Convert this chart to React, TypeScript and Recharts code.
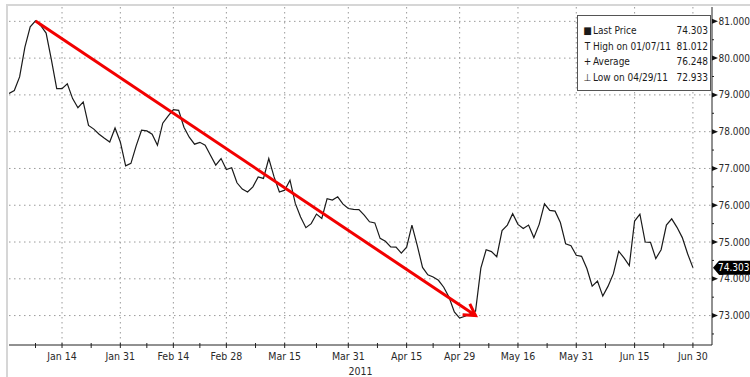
import React from 'react';
import { LineChart, Line, XAxis, YAxis, CartesianGrid, ReferenceLine } from 'recharts';

// Daily closing prices, one per weekday from 2010-12-31 to 2011-06-30
const prices: number[] = [
  79.04, 79.12, 79.49, 80.30, 80.85, 81.012, 80.88, 80.68, 79.95, 79.17,
  79.17, 79.30, 78.90, 78.65, 78.81, 78.17, 78.07, 77.93, 77.82, 77.72,
  78.10, 77.72, 77.07, 77.14, 77.62, 78.04, 78.02, 77.93, 77.63, 78.23,
  78.42, 78.60, 78.58, 78.12, 77.85, 77.66, 77.71, 77.63, 77.36, 77.09,
  77.27, 76.97, 77.02, 76.61, 76.44, 76.36, 76.50, 76.77, 76.73, 77.27,
  76.77, 76.36, 76.41, 76.68, 76.05, 75.68, 75.39, 75.50, 75.76, 75.64,
  76.18, 76.14, 76.23, 76.03, 75.91, 75.89, 75.88, 75.73, 75.55, 75.52,
  75.10, 75.02, 74.87, 74.86, 74.70, 74.86, 75.46, 74.91, 74.31, 74.11,
  74.05, 73.96, 73.77, 73.50, 73.10, 72.933, 72.98, 73.05, 73.12, 74.29,
  74.79, 74.74, 74.60, 75.31, 75.46, 75.77, 75.48, 75.37, 75.46, 75.12,
  75.48, 76.04, 75.86, 75.84, 75.53, 74.95, 74.90, 74.64, 74.61, 74.28,
  73.80, 73.94, 73.53, 73.80, 74.14, 74.75, 74.57, 74.36, 75.57, 75.76,
  75.00, 74.99, 74.55, 74.79, 75.46, 75.63, 75.40, 75.12, 74.68, 74.303,
];

// Axis labels and the dates they sit on
const axisDates: string[] = [
  '2011-01-14', '2011-01-31', '2011-02-14', '2011-02-28', '2011-03-15', '2011-03-31',
  '2011-04-15', '2011-04-29', '2011-05-16', '2011-05-31', '2011-06-15', '2011-06-30',
];
const axisLabels: string[] = [
  'Jan 14', 'Jan 31', 'Feb 14', 'Feb 28', 'Mar 15', 'Mar 31',
  'Apr 15', 'Apr 29', 'May 16', 'May 31', 'Jun 15', 'Jun 30',
];
const yearLabel = '2011';

// Price levels
const majorLevels: number[] = [73, 74, 75, 76, 77, 78, 79, 80, 81];
const minorLevels: number[] = [72.5, 73.5, 74.5, 75.5, 76.5, 77.5, 78.5, 79.5, 80.5];
const averagePrice = 76.248;

// Downtrend arrow, from the January high to early May
const trendFrom = { date: '2011-01-07', value: 81.012 };
const trendTo = { date: '2011-05-04', value: 73.0 };

// Weekday calendar
function weekdays(from: string, to: string): string[] {
  const out: string[] = [];
  const d = new Date(from + 'T00:00:00Z');
  const end = new Date(to + 'T00:00:00Z');
  while (d <= end) {
    const wd = d.getUTCDay();
    if (wd !== 0 && wd !== 6) out.push(d.toISOString().slice(0, 10));
    d.setUTCDate(d.getUTCDate() + 1);
  }
  return out;
}
const tradingDays = weekdays('2010-12-31', '2011-06-30');
const data = tradingDays.map((date, i) => ({ i, date, price: prices[i] }));

const labelIdx = axisDates.map((d) => tradingDays.indexOf(d));
const sepIdx = labelIdx.map((v, k) => (k === 0 ? v / 2 : (labelIdx[k - 1] + v) / 2));

const lastPrice = prices[prices.length - 1];
const highPrice = Math.max(...prices);
const lowPrice = Math.min(...prices);
const highDate = tradingDays[prices.indexOf(highPrice)];
const lowDate = tradingDays[prices.indexOf(lowPrice)];
const usDate = (s: string) => `${s.slice(5, 7)}/${s.slice(8, 10)}/${s.slice(2, 4)}`;

const FONT = '"DejaVu Sans Condensed", "DejaVu Sans", sans-serif';
const TEXT = '#2a2a2a';

function DateTick(props: any) {
  const { x, y, payload } = props;
  const k = labelIdx.indexOf(payload.value);
  return (
    <g>
      <line x1={x} y1={y - 2} x2={x} y2={y + 3} stroke="#222" strokeWidth={1} />
      {k >= 0 && (
        <text x={x} y={y + 15} textAnchor="middle" fontSize={10.5} fontFamily={FONT} fill={TEXT}>
          {axisLabels[k]}
        </text>
      )}
    </g>
  );
}

function PriceTick(props: any) {
  const { x, y, payload } = props;
  const v = payload.value;
  if (v === lastPrice) {
    return (
      <g>
        <polygon
          points={`${x + 1},${y} ${x + 7},${y - 7} ${x + 38},${y - 7} ${x + 38},${y + 7} ${x + 7},${y + 7}`}
          fill="#000"
        />
        <text x={x + 6} y={y + 3.5} fontSize={10} fontFamily={FONT} fill="#fff">
          {v.toFixed(3)}
        </text>
      </g>
    );
  }
  if (majorLevels.includes(v)) {
    return (
      <g>
        <polygon points={`${x},${y - 2.5} ${x + 6},${y} ${x},${y + 2.5}`} fill="#111" />
        <text x={x + 6.5} y={y + 3.5} fontSize={10} fontFamily={FONT} fill={TEXT}>
          {v.toFixed(3)}
        </text>
      </g>
    );
  }
  return <line x1={x} y1={y} x2={x + 2} y2={y} stroke="#222" strokeWidth={1} />;
}

function TrendArrow(props: any) {
  const { x1, y1, x2, y2 } = props;
  const ang = Math.atan2(y2 - y1, x2 - x1);
  const len = 13;
  const spread = Math.PI / 6;
  const ax = x2 - len * Math.cos(ang - spread);
  const ay = y2 - len * Math.sin(ang - spread);
  const bx = x2 - len * Math.cos(ang + spread);
  const by = y2 - len * Math.sin(ang + spread);
  return (
    <g>
      <line x1={x1} y1={y1} x2={x2} y2={y2} stroke="#f20000" strokeWidth={3} />
      <polyline
        points={`${ax},${ay} ${x2},${y2} ${bx},${by}`}
        fill="none"
        stroke="#f20000"
        strokeWidth={3}
        strokeLinejoin="miter"
      />
    </g>
  );
}

const legendRows = [
  { icon: '■', label: 'Last Price', value: lastPrice },
  { icon: 'T', label: `High on ${usDate(highDate)}`, value: highPrice },
  { icon: '+', label: 'Average', value: averagePrice },
  { icon: '⊥', label: `Low on ${usDate(lowDate)}`, value: lowPrice },
];

export default function App() {
  return (
    <div
      style={{
        position: 'absolute',
        left: 0,
        top: 0,
        width: 750,
        height: 377,
        background: '#fff',
        overflow: 'hidden',
        fontFamily: FONT,
      }}
    >
      <div
        style={{
          position: 'absolute',
          left: 6,
          top: 4,
          right: 0,
          bottom: 0,
          borderTop: '2px solid #d6d6d6',
          borderLeft: '2px solid #d6d6d6',
        }}
      />
      <LineChart width={750} height={377} data={data} margin={{ top: 7, right: 0, bottom: 0, left: 9 }}>
        <CartesianGrid
          stroke="#9a9a9a"
          strokeDasharray="1.5 3.5"
          horizontalValues={majorLevels}
          verticalValues={labelIdx}
        />
        <XAxis
          dataKey="i"
          type="number"
          domain={[0, 132.6]}
          allowDataOverflow
          ticks={[...labelIdx, ...sepIdx]}
          interval={0}
          tick={<DateTick />}
          tickLine={false}
          tickSize={0}
          tickMargin={0}
          axisLine={{ stroke: '#222', strokeWidth: 1 }}
          height={32}
          label={{ value: yearLabel, position: 'insideBottom', offset: 2, fontSize: 10.5, fill: TEXT, fontFamily: FONT }}
        />
        <YAxis
          orientation="right"
          type="number"
          domain={[72.2, 81.39]}
          allowDataOverflow
          ticks={[...minorLevels, ...majorLevels, lastPrice]}
          interval={0}
          tick={<PriceTick />}
          tickLine={false}
          tickSize={0}
          tickMargin={0}
          axisLine={{ stroke: '#222', strokeWidth: 1 }}
          width={38}
        />
        <Line
          type="linear"
          dataKey="price"
          stroke="#1a1a1a"
          strokeWidth={1.2}
          dot={false}
          isAnimationActive={false}
        />
        <ReferenceLine
          segment={[
            { x: tradingDays.indexOf(trendFrom.date), y: trendFrom.value },
            { x: tradingDays.indexOf(trendTo.date), y: trendTo.value },
          ]}
          ifOverflow="visible"
          shape={TrendArrow}
        />
      </LineChart>
      <div
        style={{
          position: 'absolute',
          left: 577,
          top: 15,
          width: 132,
          height: 67,
          border: '1.5px solid #555',
          background: '#fff',
          paddingTop: 7,
          boxSizing: 'content-box',
          fontSize: 10,
          color: '#1a1a1a',
          whiteSpace: 'nowrap',
        }}
      >
        {legendRows.map((r) => (
          <div
            key={r.label}
            style={{ display: 'flex', height: 15.5, lineHeight: '15.5px', paddingLeft: 4, paddingRight: 2 }}
          >
            <span style={{ width: 11, textAlign: 'center', flex: 'none' }}>{r.icon}</span>
            <span style={{ flex: 1, overflow: 'visible' }}>{r.label}</span>
            <span style={{ flex: 'none', marginLeft: 3 }}>{r.value.toFixed(3)}</span>
          </div>
        ))}
      </div>
    </div>
  );
}
